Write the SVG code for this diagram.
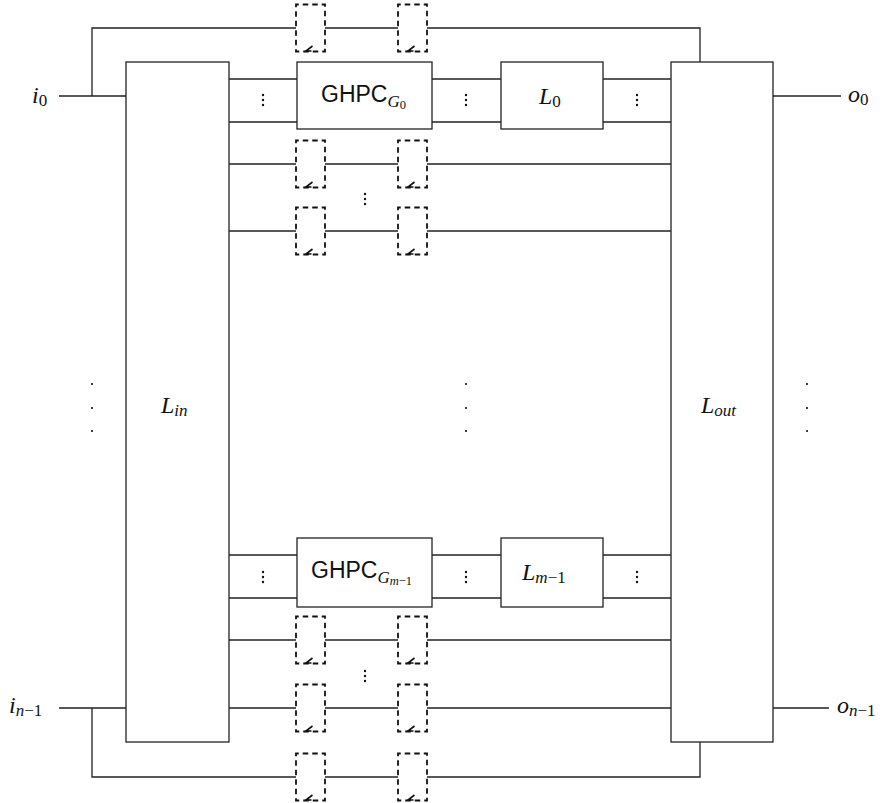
<svg xmlns="http://www.w3.org/2000/svg" xmlns:xlink="http://www.w3.org/1999/xlink" width="892" height="803" viewBox="0 0 892 803">
<style>
.box{fill:#fff;stroke:#222;stroke-width:1.3}
.wire{fill:none;stroke:#222;stroke-width:1.3}
.dash{fill:none;stroke:#111;stroke-width:1.8;stroke-dasharray:5.5 4;stroke-dashoffset:2.75}
.mark{fill:none;stroke:#111;stroke-width:1.6}
.m{font-family:"Liberation Serif","DejaVu Serif",serif;font-style:italic;font-size:24px;fill:#111}
.s{font-size:17px}
.ss{font-size:12.5px}
.up{font-style:normal}
.sans{font-family:"Liberation Sans","DejaVu Sans",sans-serif;font-size:23px;fill:#111}
.dot{fill:#111}
</style>
<defs>
<g id="dbox">
<rect class="dash" x="0" y="0" width="29" height="47"/>
<path class="mark" d="M16.5,41.5 L10,46.5 H15.5"/>
</g>
<g id="vd">
<circle class="dot" cx="0" cy="-5" r="1.2"/>
<circle class="dot" cx="0" cy="0" r="1.2"/>
<circle class="dot" cx="0" cy="5" r="1.2"/>
</g>
<g id="bd">
<circle class="dot" cx="0" cy="-24" r="1.1"/>
<circle class="dot" cx="0" cy="0" r="1.1"/>
<circle class="dot" cx="0" cy="23" r="1.1"/>
</g>
</defs>
<rect width="892" height="803" fill="#fff"/>
<g id="connectors">
<path class="wire" d="M59,96 H126 M92,96 V28 H296 M325,28 H398 M427,28 H700 V62"/>
<path class="wire" d="M59,708 H126 M92,708 V777 H296 M325,777 H398 M427,777 H700 V742"/>
<path class="wire" d="M773,96 H841 M773,708 H829"/>
<path class="wire" d="M229,79 H297 M432,79 H501 M603,79 H671 M229,122 H297 M432,122 H501 M603,122 H671"/>
<path class="wire" d="M229,555 H297 M432,555 H501 M603,555 H671 M229,598 H297 M432,598 H501 M603,598 H671"/>
<path class="wire" d="M229,164 H296 M325,164 H398 M427,164 H671 M229,231 H296 M325,231 H398 M427,231 H671"/>
<path class="wire" d="M229,640 H296 M325,640 H398 M427,640 H671 M229,708 H296 M325,708 H398 M427,708 H671"/>
</g>
<g id="delays">
<use xlink:href="#dbox" x="296" y="4.5"/><use xlink:href="#dbox" x="398" y="4.5"/>
<use xlink:href="#dbox" x="296" y="140.5"/><use xlink:href="#dbox" x="398" y="140.5"/>
<use xlink:href="#dbox" x="296" y="207.5"/><use xlink:href="#dbox" x="398" y="207.5"/>
<use xlink:href="#dbox" x="296" y="616.5"/><use xlink:href="#dbox" x="398" y="616.5"/>
<use xlink:href="#dbox" x="296" y="684.5"/><use xlink:href="#dbox" x="398" y="684.5"/>
<use xlink:href="#dbox" x="296" y="753.5"/><use xlink:href="#dbox" x="398" y="753.5"/>
</g>
<g id="Lin">
<rect class="box" x="126" y="62" width="103" height="680"/>
<text class="m" x="161" y="413">L<tspan class="s" dy="3">in</tspan></text>
</g>
<g id="Lout">
<rect class="box" x="671" y="62" width="102" height="680"/>
<text class="m" x="701" y="413">L<tspan class="s" dy="3">out</tspan></text>
</g>
<g id="GHPC0">
<rect class="box" x="297" y="62" width="135" height="67"/>
<text class="sans" x="321" y="102">GHPC<tspan class="m s" dy="5">G</tspan><tspan class="m ss up" dy="2">0</tspan></text>
</g>
<g id="L0">
<rect class="box" x="501" y="62" width="102" height="67"/>
<text class="m" x="539" y="104">L<tspan class="s up" dy="3">0</tspan></text>
</g>
<g id="GHPCm">
<rect class="box" x="297" y="538" width="135" height="69"/>
<text class="sans" x="311" y="578">GHPC<tspan class="m s" dy="5">G</tspan><tspan class="m ss" dy="2">m</tspan><tspan class="m ss up">−1</tspan></text>
</g>
<g id="Lm">
<rect class="box" x="501" y="538" width="102" height="69"/>
<text class="m" x="522" y="580">L<tspan class="s" dy="3">m</tspan><tspan class="s up">−1</tspan></text>
</g>
<g id="labels">
<text class="m" x="32" y="103">i<tspan class="s up" dy="3">0</tspan></text>
<text class="m" x="9" y="713">i<tspan class="s" dy="3">n</tspan><tspan class="s up">−1</tspan></text>
<text class="m" x="848" y="102">o<tspan class="s up" dy="3">0</tspan></text>
<text class="m" x="837" y="713">o<tspan class="s" dy="3">n</tspan><tspan class="s up">−1</tspan></text>
</g>
<g id="ellipses">
<use xlink:href="#vd" x="263" y="100"/><use xlink:href="#vd" x="466" y="100"/><use xlink:href="#vd" x="637" y="100"/>
<use xlink:href="#vd" x="263" y="577"/><use xlink:href="#vd" x="466" y="577"/><use xlink:href="#vd" x="637" y="577"/>
<use xlink:href="#vd" x="365" y="199"/><use xlink:href="#vd" x="365" y="676"/>
<use xlink:href="#bd" x="92" y="408"/><use xlink:href="#bd" x="466" y="408"/><use xlink:href="#bd" x="807" y="408"/>
</g>
</svg>
